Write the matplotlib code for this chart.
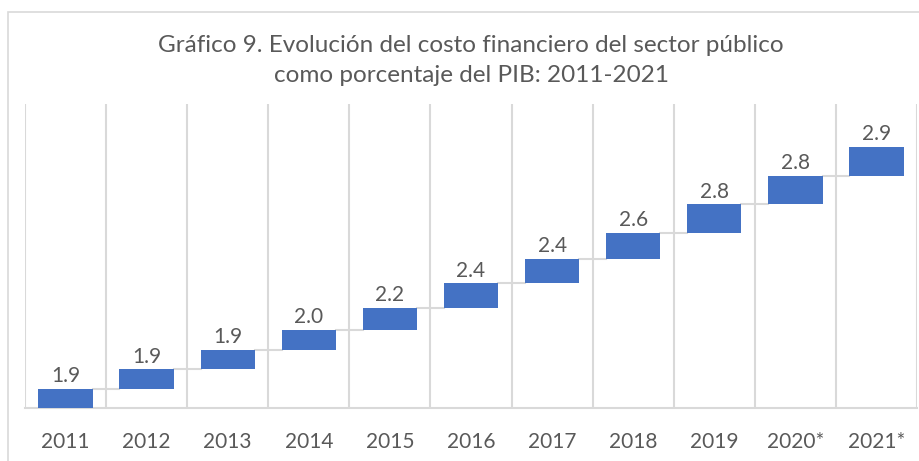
import numpy as np
import matplotlib.pyplot as plt
from matplotlib.patches import Rectangle

years = ['2011', '2012', '2013', '2014', '2015', '2016', '2017', '2018', '2019', '2020*', '2021*']
values = [1.9, 1.9, 1.9, 2.0, 2.2, 2.4, 2.4, 2.6, 2.8, 2.8, 2.9]
labels = ['1.9', '1.9', '1.9', '2.0', '2.2', '2.4', '2.4', '2.6', '2.8', '2.8', '2.9']

plt.rcParams['font.family'] = ['Lato', 'DejaVu Sans']
TXT = '#595959'
GRID = '#D9D9D9'
BLUE = '#4472C4'

fig = plt.figure(figsize=(9.2, 4.61), dpi=100)
ax = fig.add_axes([25 / 920, 1 - 408 / 461, 892 / 920, 304 / 461])

# waterfall: each bar starts at the running total of the previous ones
x = np.arange(len(years))
tops = np.cumsum(values)
bottoms = tops - np.array(values)
width = 0.67
ax.bar(x, values, bottom=bottoms, width=width, color=BLUE, zorder=3)

# connectors between bars
for i in range(len(years) - 1):
    ax.plot([x[i] + width / 2, x[i + 1] - width / 2], [tops[i], tops[i]],
            color=GRID, lw=1.5, zorder=2)

for xi, t, lab in zip(x, tops, labels):
    ax.annotate(lab, (xi, t), xytext=(0, 2), textcoords='offset points',
                ha='center', va='bottom', fontsize=15, color=TXT)

ax.set_xlim(-0.5, len(years) - 0.5)
ax.set_ylim(0, 30)
ax.set_xticks(x)
ax.set_xticklabels(years, fontsize=15, color=TXT)
ax.set_xticks(np.arange(-0.5, len(years)), minor=True)
ax.tick_params(axis='x', which='both', length=0, pad=17)
ax.set_yticks([])
ax.grid(axis='x', which='minor', color=GRID, lw=1.5)
for s in ['top', 'right', 'left']:
    ax.spines[s].set_visible(False)
ax.spines['bottom'].set_color(GRID)
ax.spines['bottom'].set_linewidth(1.5)

fig.text(0.512, 1 - 45 / 461, 'Gráfico 9. Evolución del costo financiero del sector público',
         ha='center', va='center', fontsize=17.5, color=TXT)
fig.text(0.512, 1 - 76 / 461, 'como porcentaje del PIB: 2011-2021',
         ha='center', va='center', fontsize=17.5, color=TXT)

# chart frame
fig.patches.append(Rectangle((8 / 920, -0.1), 1.2, 1 - 12 / 461 + 0.1,
                             transform=fig.transFigure, fill=False,
                             edgecolor=GRID, lw=1.2))

fig.savefig('out.png', dpi=100)
